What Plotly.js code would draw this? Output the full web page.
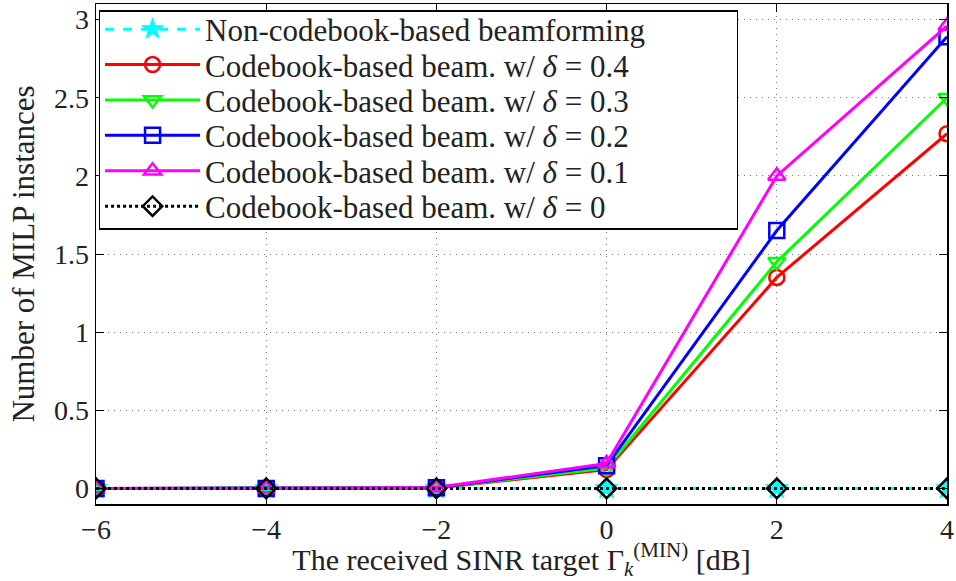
<!DOCTYPE html>
<html><head><meta charset="utf-8">
<script src="https://cdn.plot.ly/plotly-3.0.1.min.js"></script>
<style>html,body{margin:0;padding:0;background:#fff}</style>
</head><body><div id="chart" style="width:956px;height:581px"></div>
<script>
const sinrTargets = [-6, -4, -2, 0, 2, 4];
const nonCodebook = [0, 0, 0, 0, 0, 0];
const delta04 = [0, 0, 0.003, 0.12, 1.35, 2.27];
const delta03 = [0, 0, 0.003, 0.13, 1.45, 2.5];
const delta02 = [0, 0, 0.004, 0.145, 1.65, 2.89];
const delta01 = [0, 0, 0.005, 0.16, 2.0, 2.96];
const delta0 = [0, 0, 0, 0, 0, 0];
const seriesNames = [
  "Non-codebook-based beamforming",
  "Codebook-based beam. w/ <i>δ</i> = 0.4",
  "Codebook-based beam. w/ <i>δ</i> = 0.3",
  "Codebook-based beam. w/ <i>δ</i> = 0.2",
  "Codebook-based beam. w/ <i>δ</i> = 0.1",
  "Codebook-based beam. w/ <i>δ</i> = 0"
];
const seriesData = [nonCodebook, delta04, delta03, delta02, delta01, delta0];
const colors = ["#00FFFF", "#FF0000", "#00FF00", "#0000FF", "#FF00FF", "#000000"];
const symbols = ["star", "circle-open", "triangle-down-open", "square-open", "triangle-up-open", "diamond-open"];
const dashes = ["dash", "solid", "solid", "solid", "solid", "dot"];

const traces = seriesData.map((ys, i) => ({
  x: sinrTargets, y: ys, name: seriesNames[i], type: "scatter", mode: "lines+markers",
  line: {color: colors[i], width: 3, dash: dashes[i]},
  marker: {symbol: symbols[i], size: i === 0 ? 17 : 15, color: colors[i],
           line: {color: colors[i], width: i === 0 ? 1 : 2.5}}
}));

const fam = "Liberation Serif";
const f = (s) => ({family: fam, size: s, color: "#222"});
const layout = {
  width: 956, height: 581,
  margin: {l: 96, r: 9, t: 4, b: 77},
  paper_bgcolor: "#fff", plot_bgcolor: "#fff",
  font: f(28),
  showlegend: true,
  legend: {x: 0.003, y: 0.988, xanchor: "left", yanchor: "top",
           bgcolor: "#fff", bordercolor: "#000", borderwidth: 1.5,
           font: f(31), itemwidth: 95, tracegroupgap: 0},
  xaxis: {range: [-6, 4], tickvals: [-6, -4, -2, 0, 2, 4], ticks: "inside", ticklen: 8,
          tickcolor: "#000", showline: true, linecolor: "#000", linewidth: 1.5, mirror: "allticks",
          showgrid: true, gridcolor: "#777", griddash: "1px,5px", gridwidth: 1, zeroline: false,
          tickfont: f(28),
          title: {text: "The received SINR target Γ<sub><i>k</i></sub><sup>(MIN)</sup> [dB]", font: f(30), standoff: 4}},
  yaxis: {range: [-0.1, 3.1], tickvals: [0, 0.5, 1, 1.5, 2, 2.5, 3], ticktext: ["0","0.5","1","1.5","2","2.5","3"],
          ticks: "inside", ticklen: 8,
          tickcolor: "#000", showline: true, linecolor: "#000", linewidth: 1.5, mirror: "allticks",
          showgrid: true, gridcolor: "#777", griddash: "1px,5px", gridwidth: 1, zeroline: false,
          tickfont: f(28),
          title: {text: "Number of MILP instances", font: f(31), standoff: 10}}
};
Plotly.newPlot("chart", traces, layout, {displayModeBar: false, staticPlot: true}).then((gd) => {
  // tighten legend row spacing and widen its box, as in the reference figure
  const rowStep = 35.4, boxHeight = 218, boxWidth = 638;
  const items = gd.querySelectorAll(".legend .traces");
  let y0 = null;
  items.forEach((el, i) => {
    const m = /translate\(\s*([-\d.]+)[ ,]+([-\d.]+)\s*\)/.exec(el.getAttribute("transform") || "");
    if (!m) return;
    const x = parseFloat(m[1]);
    if (y0 === null) y0 = parseFloat(m[2]) - 9;
    el.setAttribute("transform", `translate(${x},${y0 + i * rowStep})`);
  });
  const bg = gd.querySelector(".legend rect.bg");
  if (bg) { bg.setAttribute("height", boxHeight); bg.setAttribute("width", boxWidth); }
});
</script></body></html>
